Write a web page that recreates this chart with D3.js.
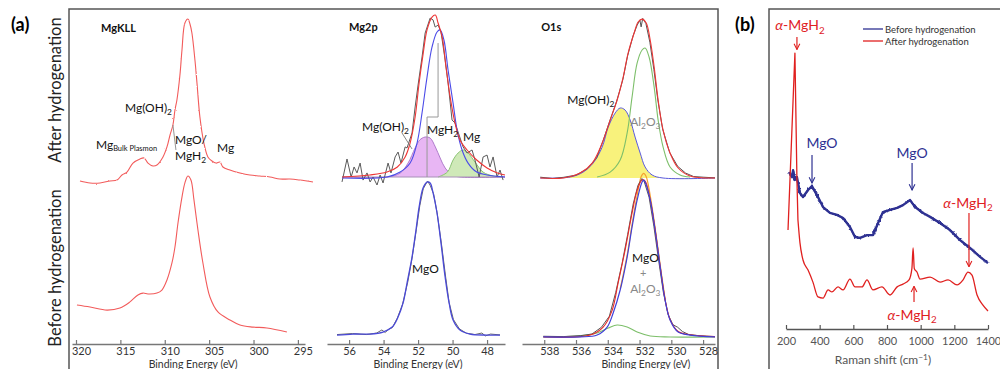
<!DOCTYPE html>
<html lang="en">
<head>
<meta charset="utf-8">
<script src="https://cdn.jsdelivr.net/npm/d3@7/dist/d3.min.js"></script>
<style>
  body { margin: 0; background: #fff; }
  text { font-family: Lato, "Open Sans", sans-serif; }
</style>
</head>
<body>
<div id="chart"></div>
<script>
// ---- data: [binding energy (eV), intensity (a.u., 0-100)] ----
var kllAfter = [[319.55,2.4],[318.42,1.2],[317.3,1.2],[316.17,2.4],[315.38,2.9],[314.82,5.9],[314.26,7.6],[313.58,12.9],[312.79,15.3],[312.34,15.9],[311.89,12.9],[311.33,11.2],[310.88,11.8],[310.2,16.5],[309.75,22.4],[309.41,29.4],[309.08,35.3],[308.85,44.1],[308.63,50],[308.29,64.7],[308.06,79.4],[307.73,95.3],[307.39,97.6],[307.16,94.7],[306.94,89.4],[306.6,73.5],[306.37,60],[306.04,40],[305.59,24.7],[305.14,16.5],[304.68,14.1],[304.23,12.9],[303.78,13.5],[303.45,10.6],[302.66,8.8],[301.53,7.1],[300.41,5.9],[299.28,5.3],[298.15,4.7],[297.03,3.5],[295.9,3.5],[294.77,2.9],[293.3,1.8]];
var kllBefore = [[319.89,20.6],[318.42,19.4],[316.51,17.6],[315.05,18.8],[313.92,22.4],[313.02,26.5],[312.45,27.6],[311.89,27.1],[310.88,27.6],[310.32,29.4],[309.75,35.3],[309.19,45.3],[308.85,54.7],[308.51,68.8],[308.06,84.1],[307.73,92.4],[307.39,96.5],[307.05,94.1],[306.71,82.4],[306.26,64.7],[305.7,45.3],[304.91,25.3],[304.01,16.5],[302.66,11.8],[301.53,8.8],[300.07,7.6],[298.49,7.1],[296.24,4.7]];

var mg2pRaw = [[56.41,1.8],[56.12,15.3],[55.88,4.7],[55.71,10.6],[55.54,7.1],[55.36,12.9],[55.19,2.9],[54.96,7.1],[54.78,1.8],[54.61,4.7],[54.38,0],[54.2,5.9],[54.03,1.2],[53.74,12.9],[53.57,7.1],[53.33,16.5],[53.16,19.4],[52.99,12.9],[52.75,22.4],[52.64,21.8],[52.35,30.6],[52.17,45.9],[52.0,58.8],[51.77,75.3],[51.59,89.4],[51.3,98.2],[51.13,97.1],[51.01,92.9],[50.84,94.1],[50.67,90],[50.43,73.5],[50.26,60],[50.03,38.2],[49.86,36.5],[49.68,31.2],[49.39,22.4],[49.16,18.8],[48.87,20.6],[48.7,14.7],[48.46,4.7],[48.23,16.5],[48.0,17.6],[47.83,10.6],[47.65,16.5],[47.42,4.7],[47.25,8.8],[47.07,2.9]];
var mg2pEnvelope = [[56.4,4.7],[54.8,5.9],[53.8,7.6],[53.2,10.6],[52.75,16.5],[52.46,24.7],[52.17,40],[51.94,60],[51.7,77.6],[51.48,91.2],[51.19,98.8],[51.0,100],[50.84,95.3],[50.6,87],[50.38,69.4],[50.14,51.8],[49.86,36.5],[49.57,26.5],[49.16,20.6],[48.6,14.7],[48.0,10],[47.4,7],[46.96,5.9]];
var mg2pMgH2 = [[56.4,4.1],[53.8,4.7],[53.04,7.6],[52.46,12.9],[52.06,24.7],[51.77,42.4],[51.48,63.5],[51.19,81.2],[50.9,90],[50.72,91.2],[50.5,85.3],[50.26,67.6],[49.97,48.2],[49.74,32.4],[49.45,20.6],[49.1,12.9],[48.6,7.6],[48.0,5.9],[46.96,4.7]];
var mg2pMgOH2 = [[56.4,4.7],[53.8,4.7],[53.04,7],[52.58,12.9],[52.17,21.8],[51.9,26.5],[51.6,28.2],[51.3,27.6],[51.0,22.4],[50.72,15.9],[50.43,10],[50.0,5.9],[49.57,4.7],[46.96,4.7]];
var mg2pMg = [[50.84,4.7],[50.3,7.6],[49.97,14.7],[49.68,18.8],[49.39,20.6],[49.1,18.8],[48.7,13.5],[48.23,7.6],[47.65,5.3],[47.07,4.7]];
var mg2pBase = 4.7;
var mg2pBeforeRaw = [[56.7,3.2],[55.8,3.8],[55.0,3.2],[54.4,4.1],[54.1,5.9],[53.9,4.4],[53.7,6.5],[53.5,7.2],[53.2,12.9],[52.9,21],[52.6,34],[52.35,48],[52.1,65],[51.9,79],[51.7,89],[51.45,93.5],[51.3,91],[51.1,86],[50.9,75],[50.65,57],[50.4,37],[50.2,22],[49.95,12],[49.6,6.5],[49.2,4],[48.7,3.2],[48.3,4.1],[48.1,2.4],[47.8,3.5],[47.25,3]];
var mg2pBeforeFit = [[56.7,2.9],[55.77,3.5],[54.78,3.5],[54.03,4.7],[53.5,7.6],[53.16,13.5],[52.87,21.8],[52.64,33.5],[52.35,48.8],[52.12,64.7],[51.94,78.2],[51.71,89.4],[51.48,92.9],[51.3,92.4],[51.13,86.5],[50.9,74.7],[50.67,57],[50.43,37],[50.2,21.8],[49.97,11.8],[49.57,5.9],[48.99,3.5],[48.0,2.9],[47.25,2.9]];

var o1sRaw = [[538.25,4.6],[537.5,3.8],[536.8,4.5],[536.0,5.8],[535.3,9.5],[534.7,16],[534.3,26],[533.9,37],[533.45,49],[533.05,62],[532.75,76],[532.4,88],[532.15,94],[531.98,97],[531.9,93],[531.8,98],[531.6,95],[531.35,84],[531.1,68],[530.85,50],[530.55,33],[530.1,19],[529.6,11],[529.1,7],[528.6,5],[528.0,4.6],[527.25,4.2]];
var o1sEnvelope = [[538.25,4.1],[536.81,4.1],[535.74,7],[534.98,12.9],[534.35,24.7],[533.85,38.2],[533.41,50],[533.03,63.5],[532.72,77.6],[532.34,89.4],[532.09,95.9],[531.84,97.6],[531.58,95.3],[531.33,85.3],[531.08,69.4],[530.83,50],[530.52,32.4],[530.08,18.8],[529.57,10],[528.82,5.3],[527.25,4.1]];
var o1sAl2O3 = [[534.67,4.7],[533.85,7.6],[533.22,14.7],[532.78,30.6],[532.47,51.8],[532.15,71.8],[531.84,79.4],[531.65,80.6],[531.4,75.3],[531.08,57.6],[530.83,38.2],[530.52,22.4],[530.08,10.6],[529.45,5.9],[528.82,4.7]];
var o1sMgOH2 = [[538.25,4.1],[536.36,4.7],[535.55,7.6],[534.92,12.9],[534.35,22.4],[533.97,34.1],[533.53,42.4],[533.22,45.3],[532.91,44.1],[532.59,38.2],[532.28,28.2],[531.96,18.8],[531.65,10.6],[531.21,5.9],[530.52,4.1],[527.25,4.1]];
var o1sBase = 4.1;
var o1sBeforeRaw = [[538.06,2.2],[536.8,2.0],[535.7,2.6],[535.0,3.5],[534.4,7.5],[533.9,14],[533.5,28],[533.1,45],[532.75,62],[532.4,80],[532.1,91],[531.85,95],[531.7,93],[531.4,84],[531.1,67],[530.8,47],[530.5,28],[530.2,15],[529.9,9],[529.6,7.5],[529.3,5],[528.9,3.2],[528.2,2.5],[527.25,2]];
var o1sBeforeEnv = [[538.06,1.8],[535.11,2.9],[534.29,7.6],[533.72,17.6],[533.35,33.5],[532.91,52.9],[532.47,74.7],[532.15,88.2],[531.84,94.1],[531.65,93.5],[531.33,82.6],[531.02,64.9],[530.7,43.2],[530.39,23.8],[530.08,12.1],[529.57,5],[528.82,3.1],[527.25,2]];
var o1sBeforeMgO = [[538.06,1.8],[535.74,1.8],[534.67,2.9],[534.04,7.6],[533.66,15.9],[533.22,29.4],[532.78,48.8],[532.47,66.5],[532.15,82.4],[531.84,92.9],[531.74,94],[531.65,92.9],[531.33,82.4],[531.02,64.7],[530.7,43],[530.39,23.5],[530.08,11.8],[529.57,4.7],[528.82,2.9],[527.25,1.8]];
var o1sBeforeOrange = [[533.22,30],[532.78,50],[532.47,68],[532.15,85],[531.9,96],[531.74,98],[531.58,96],[531.33,85],[531.02,66],[530.7,44],[530.39,24]];
var o1sBeforeAl = [[538.06,1.8],[535.74,2.4],[534.67,4.1],[533.97,7],[533.41,8.8],[532.78,7.6],[532.15,4.7],[531.33,2.4],[530.08,1.8],[527.25,1.8]];

// Raman: [shift (cm-1), intensity (a.u.)]
var ramanAfterSpike = [[212,35.7],[253,98.9],[265,53.6],[271,39.3]];
var ramanAfter = [[271,39.3],[283,31.1],[301,25],[331,21.4],[360,17.1],[390,11.8],[420,11.4],[450,14.3],[473,13.6],[509,15.4],[539,14.3],[580,18.2],[610,15.4],[652,15.4],[681,17.9],[717,14.3],[770,15.4],[818,12.5],[860,15.4],[895,16.4],[931,17.9],[948,22],[955,29.3],[962,22],[978,20.7],[996,18.2],[1056,18.9],[1115,17.1],[1163,17.9],[1216,16.1],[1252,17.9],[1281,20.7],[1305,19.6],[1335,12.5],[1370,8.9],[1400,6.8]];
var ramanBefore = [[218,56.4],[236,54.6],[242,57.1],[253,53.6],[265,54.6],[283,48.9],[301,47.5],[331,50],[354,51.4],[384,48.2],[420,43.9],[461,41.8],[503,41.1],[539,40],[580,36.8],[610,33.2],[640,32.9],[681,33.9],[717,33.9],[747,38.2],[776,42.1],[818,42.9],[860,43.6],[895,44.6],[937,46.4],[967,43.9],[1014,41.8],[1056,40.4],[1115,38.2],[1174,35.7],[1234,32.1],[1293,29.3],[1353,26.1],[1400,23.9]];

var kllTicks = [320, 315, 310, 305, 300, 295];
var mg2pTicks = [56, 54, 52, 50, 48];
var o1sTicks = [538, 536, 534, 532, 530, 528];
var ramanTicks = [200, 400, 600, 800, 1000, 1200, 1400];

var width = 1000, height = 369;
var svg = d3.select("#chart").append("svg")
    .attr("width", width).attr("height", height);

var defs = svg.append("defs");
var f = defs.append("filter").attr("id", "rough")
    .attr("x", "-5%").attr("y", "-10%").attr("width", "110%").attr("height", "120%");
f.append("feTurbulence").attr("type", "fractalNoise").attr("baseFrequency", "0.45")
    .attr("numOctaves", 1).attr("seed", 3).attr("result", "n");
f.append("feDisplacementMap").attr("in", "SourceGraphic").attr("in2", "n")
    .attr("scale", 5).attr("xChannelSelector", "R").attr("yChannelSelector", "G");
var f2 = defs.append("filter").attr("id", "rough2")
    .attr("x", "-5%").attr("y", "-10%").attr("width", "110%").attr("height", "120%");
f2.append("feTurbulence").attr("type", "fractalNoise").attr("baseFrequency", "0.5")
    .attr("numOctaves", 1).attr("seed", 7).attr("result", "n");
f2.append("feDisplacementMap").attr("in", "SourceGraphic").attr("in2", "n")
    .attr("scale", 2).attr("xChannelSelector", "R").attr("yChannelSelector", "G");

["red", "blue"].forEach(function(c) {
    defs.append("marker").attr("id", "arr-" + c)
        .attr("viewBox", "0 0 10 10").attr("refX", 9).attr("refY", 5)
        .attr("markerWidth", 6).attr("markerHeight", 6).attr("orient", "auto")
        .append("path").attr("d", "M1,1 L9,5 L1,9")
        .attr("fill", "none").attr("stroke", c == "red" ? "#e0201f" : "#2e3192").attr("stroke-width", 1.5);
});

// frames
svg.append("path").attr("d", "M69,380 V9 H718 V380")
    .attr("fill", "none").attr("stroke", "#555").attr("stroke-width", 1.5);
svg.append("path").attr("d", "M769,380 V9 H1000")
    .attr("fill", "none").attr("stroke", "#555").attr("stroke-width", 1.5);

svg.append("text").attr("x", 11).attr("y", 31).attr("font-size", 18).attr("font-weight", "bold").text("(a)");
svg.append("text").attr("x", 735).attr("y", 31).attr("font-size", 18).attr("font-weight", "bold").text("(b)");

svg.append("text").attr("transform", "translate(61,90) rotate(-90)")
    .attr("text-anchor", "middle").attr("font-size", 16.5).attr("fill", "#222")
    .text("After hydrogenation");
svg.append("text").attr("transform", "translate(61,268) rotate(-90)")
    .attr("text-anchor", "middle").attr("font-size", 16.5).attr("fill", "#222")
    .text("Before hydrogenation");

var yAfter = d3.scaleLinear().domain([0, 100]).range([185, 15]);
var yBefore = d3.scaleLinear().domain([0, 100]).range([340, 170]);

var xKll = d3.scaleLinear().domain([320.45, 294.2]).range([72, 305]);
var xMg2p = d3.scaleLinear().domain([57.28, 46.96]).range([327, 505]);
var xO1s = d3.scaleLinear().domain([539.4, 527.25]).range([522, 715]);
var xRam = d3.scaleLinear().domain([200, 1400]).range([786, 988]);
var yRam = d3.scaleLinear().domain([0, 100]).range([330, 50]);

function lineFor(x, y, curve) {
    return d3.line().x(function(d) { return x(d[0]); }).y(function(d) { return y(d[1]); })
        .curve(curve || d3.curveCatmullRom.alpha(0.5));
}
function areaFor(x, y, base) {
    return d3.area().x(function(d) { return x(d[0]); }).y1(function(d) { return y(d[1]); })
        .y0(y(base)).curve(d3.curveCatmullRom.alpha(0.5));
}
function drawLine(data, x, y, color, w, curve) {
    return svg.append("path").datum(data).attr("d", lineFor(x, y, curve))
        .attr("fill", "none").attr("stroke", color).attr("stroke-width", w || 1.1)
        .attr("stroke-linejoin", "round");
}
function drawArea(data, x, y, base, fill, stroke) {
    svg.append("path").datum(data).attr("d", areaFor(x, y, base))
        .attr("fill", fill).attr("stroke", "none");
    drawLine(data, x, y, stroke, 1);
}

function bottomAxis(x, ticks, yPos, dx, pad) {
    var g = svg.append("g").attr("transform", "translate(0," + yPos + ")")
        .call(d3.axisBottom(x).tickValues(ticks).tickFormat(d3.format("d"))
            .tickSize(-4).tickSizeOuter(0).tickPadding(pad));
    g.select(".domain").attr("stroke", "#777").attr("stroke-width", 1.4);
    g.selectAll(".tick line").attr("stroke", "#777").attr("stroke-width", 1.2);
    g.selectAll(".tick text").attr("font-size", 11).attr("fill", "#333")
        .attr("font-family", "Lato, sans-serif").attr("dx", dx);
    return g;
}

// label helper: parts = [[text, "sub"|""], ...]
function label(x, y, parts, size, color, anchor, weight) {
    var t = svg.append("text").attr("x", x).attr("y", y)
        .attr("font-size", size).attr("fill", color || "#111")
        .attr("text-anchor", anchor || "start").attr("font-weight", weight || "normal");
    parts.forEach(function(p) {
        var s = t.append("tspan").text(p[0]);
        if (p[1] == "sub") s.attr("font-size", size * 0.7).attr("dy", size * 0.25);
        else if (p[1] == "subsmall") s.attr("font-size", size * 0.62).attr("dy", size * 0.2);
        else if (p[1] == "up") s.attr("dy", -size * 0.25);
        else if (p[1] == "sup") s.attr("font-size", size * 0.7).attr("dy", -size * 0.35);
        else if (p[1] == "down") s.attr("dy", size * 0.35);
        else if (p[1] == "it") s.attr("font-style", "italic");
    });
    return t;
}
function axisTitle(x, txt) {
    svg.append("text").attr("x", x).attr("y", 368).attr("text-anchor", "middle")
        .attr("font-size", 10.5).attr("fill", "#333").text(txt);
}

// ---------- MgKLL ----------
drawLine(kllAfter, xKll, yAfter, "#f25b5b", 1.1).attr("filter", "url(#rough2)");
drawLine(kllBefore, xKll, yBefore, "#f25b5b", 1.1);
bottomAxis(xKll, kllTicks, 344, 5, 3);
axisTitle(xKll(306.8), "Binding Energy (eV)");

label(xKll(317.18), yAfter(90), [["MgKLL", ""]], 11, "#111", "start", "bold");
label(xKll(314.48), yAfter(42.9), [["Mg(OH)", ""], ["2", "sub"]], 12);
label(xKll(317.75), yAfter(21.2), [["Mg", ""], ["Bulk Plasmon", "subsmall"]], 12);
label(xKll(308.85), yAfter(24.1), [["MgO/", ""]], 12);
label(xKll(308.85), yAfter(14.7), [["MgH", ""], ["2", "sub"]], 12);
label(xKll(304.12), yAfter(19.4), [["Mg", ""]], 12);
drawLine([[309.08, 35.3], [308.74, 20.6]], xKll, yAfter, "#888", 0.9, d3.curveLinear);

// ---------- Mg2p ----------
drawArea(mg2pMgOH2, xMg2p, yAfter, mg2pBase, "#e8b6f4", "#b07ccc");
drawArea(mg2pMg, xMg2p, yAfter, mg2pBase, "#cfe9b8", "#8cc474");
drawLine([[56.4, mg2pBase], [46.96, mg2pBase]], xMg2p, yAfter, "#a890b8", 1, d3.curveLinear);
drawLine(mg2pRaw, xMg2p, yAfter, "#5a5a5a", 1, d3.curveLinear);
drawLine(mg2pMgH2, xMg2p, yAfter, "#4b4be8", 1.1);
drawLine(mg2pEnvelope, xMg2p, yAfter, "#ee3535", 1.1);
drawLine([[50.84, 83.5], [50.84, 40], [51.48, 40], [51.48, 4.7]], xMg2p, yAfter, "#999", 1, d3.curveLinear);
drawLine([[52.93, 30.6], [52.35, 21.2]], xMg2p, yAfter, "#777", 0.9, d3.curveLinear);

drawLine(mg2pBeforeRaw, xMg2p, yBefore, "#666", 1, d3.curveLinear);
drawLine(mg2pBeforeFit, xMg2p, yBefore, "#4a4ad8", 1.3);
bottomAxis(xMg2p, mg2pTicks, 344, 0, 3);
axisTitle(xMg2p(52), "Binding Energy (eV)");

label(xMg2p(56.0), yAfter(90.6), [["Mg2p", ""]], 11, "#111", "start", "bold");
label(xMg2p(55.25), yAfter(31.8), [["Mg(OH)", ""], ["2", "sub"]], 12);
label(xMg2p(51.48), yAfter(30), [["MgH", ""], ["2", "sub"]], 12);
label(xMg2p(49.39), yAfter(25.9), [["Mg", ""]], 12);
label(xMg2p(52.35), yBefore(39.4), [["MgO", ""]], 12);

// ---------- O1s ----------
drawArea(o1sMgOH2, xO1s, yAfter, o1sBase, "#f8f27c", "#5a5ae0");
drawLine(o1sAl2O3, xO1s, yAfter, "#7dbf6a", 1.1);
drawLine(o1sRaw, xO1s, yAfter, "#555", 1, d3.curveLinear);
drawLine(o1sEnvelope, xO1s, yAfter, "#ee3535", 1.1);

drawLine(o1sBeforeAl, xO1s, yBefore, "#7dbf6a", 1.1);
drawLine(o1sBeforeOrange, xO1s, yBefore, "#f5a030", 1.2);
drawLine(o1sBeforeRaw, xO1s, yBefore, "#555", 1, d3.curveLinear);
drawLine(o1sBeforeEnv, xO1s, yBefore, "#e82a2a", 1.1);
drawLine(o1sBeforeMgO, xO1s, yBefore, "#4040d8", 1.2);
bottomAxis(xO1s, o1sTicks, 344, 5, 3);
axisTitle(xO1s(531.6), "Binding Energy (eV)");

label(xO1s(538.19), yAfter(90.6), [["O1s", ""]], 11, "#111", "start", "bold");
label(xO1s(536.55), yAfter(47.6), [["Mg(OH)", ""], ["2", "sub"]], 12);
label(xO1s(532.59), yAfter(34.7), [["Al", ""], ["2", "sub"], ["O", "up"], ["3", "sub"]], 12, "#888");
label(xO1s(532.47), yBefore(45.9), [["MgO", ""]], 12);
label(xO1s(531.77), yBefore(37.1), [["+", ""]], 11, "#888", "middle");
label(xO1s(532.59), yBefore(27.6), [["Al", ""], ["2", "sub"], ["O", "up"], ["3", "sub"]], 12, "#888");

// ---------- Raman (b) ----------
drawLine(ramanBefore, xRam, yRam, "#2e3192", 2.4, d3.curveLinear);
drawLine(ramanBefore, xRam, yRam, "#2e3192", 1.6, d3.curveLinear).attr("filter", "url(#rough)");
drawLine(ramanAfterSpike, xRam, yRam, "#e0201f", 1.3, d3.curveLinear);
drawLine(ramanAfter, xRam, yRam, "#e0201f", 1.3, d3.curveMonotoneX);

var gb = svg.append("g").attr("transform", "translate(0,329)")
    .call(d3.axisBottom(xRam).tickValues(ramanTicks).tickFormat(d3.format("d"))
        .tickSize(-4).tickSizeOuter(0).tickPadding(8));
gb.select(".domain").attr("stroke", "#555").attr("stroke-width", 1.3);
gb.selectAll(".tick line").attr("stroke", "#555").attr("stroke-width", 1.2);
gb.selectAll(".tick text").attr("font-size", 11).attr("fill", "#555").attr("font-family", "Lato, sans-serif");
label(xRam(776), 364, [["Raman shift (cm", ""], ["\u22121", "sup"], [")", "down"]], 12, "#555", "middle");

// arrows
function arrow(pts, c) {
    drawLine(pts, xRam, yRam, c == "red" ? "#e0201f" : "#2e3192", 1.2, d3.curveLinear)
        .attr("marker-end", "url(#arr-" + c + ")");
}
arrow([[265, 104.6], [265, 100.2]], "red");
arrow([[354.5, 62.5], [354.5, 52.5]], "blue");
arrow([[949, 59.6], [949, 50]], "blue");
arrow([[1287, 41.8], [1287, 22.6]], "red");
arrow([[960.5, 10], [960.5, 15.6]], "red");

label(xRam(283), yRam(107.1), [["\u03b1", "it"], ["-MgH", ""], ["2", "sub"]], 14, "#e0201f", "middle");
label(xRam(414), yRam(65), [["MgO", ""]], 14, "#2e3192", "middle");
label(xRam(949), yRam(61.4), [["MgO", ""]], 14, "#2e3192", "middle");
label(xRam(1281), yRam(43.6), [["\u03b1", "it"], ["-MgH", ""], ["2", "sub"]], 14, "#e0201f", "middle");
label(xRam(949), yRam(3.6), [["\u03b1", "it"], ["-MgH", ""], ["2", "sub"]], 14, "#e0201f", "middle");

// legend
var legend = [["Before hydrogenation", "#2e3192"], ["After hydrogenation", "#e0201f"]];
legend.forEach(function(l, i) {
    var ly = 29 + i * 12;
    svg.append("line").attr("x1", 863).attr("x2", 883).attr("y1", ly).attr("y2", ly)
        .attr("stroke", l[1]).attr("stroke-width", 1.3);
    svg.append("text").attr("x", 885).attr("y", ly + 3.5).attr("font-size", 9.5)
        .attr("fill", "#333").text(l[0]);
});
</script>
</body>
</html>
